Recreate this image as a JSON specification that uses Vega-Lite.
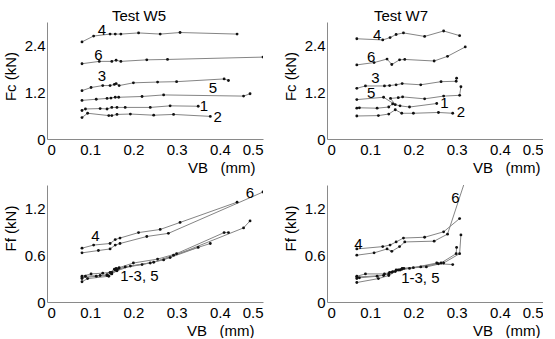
{
  "$schema": "https://vega.github.io/schema/vega-lite/v6.json",
  "padding": {"left": 3, "top": 9, "right": 0, "bottom": 0},
  "background": "white",
  "config": {
    "font": "Liberation Sans",
    "view": {"stroke": null},
    "axis": {"grid": false, "ticks": false, "domainColor": "#8a8a8a", "labelColor": "#000", "labelFontSize": 15, "titleFontSize": 15, "titleFontWeight": "normal", "titleColor": "#000", "labelFont": "Liberation Sans", "titleFont": "Liberation Sans", "format": ".2~g"},
    "title": {"fontSize": 15, "fontWeight": "normal", "font": "Liberation Sans", "baseline": "alphabetic", "offset": -2}
  },
  "datasets": {
    "w5c": [
      {"s": "4", "x": 0.081, "y": 2.49}, {"s": "4", "x": 0.108, "y": 2.64}, {"s": "4", "x": 0.146, "y": 2.69}, {"s": "4", "x": 0.158, "y": 2.69}, {"s": "4", "x": 0.171, "y": 2.69}, {"s": "4", "x": 0.212, "y": 2.72}, {"s": "4", "x": 0.262, "y": 2.69}, {"s": "4", "x": 0.308, "y": 2.73}, {"s": "4", "x": 0.44, "y": 2.69},
      {"s": "6", "x": 0.081, "y": 1.93}, {"s": "6", "x": 0.121, "y": 1.99}, {"s": "6", "x": 0.15, "y": 1.99}, {"s": "6", "x": 0.16, "y": 2.02}, {"s": "6", "x": 0.171, "y": 1.99}, {"s": "6", "x": 0.231, "y": 2.03}, {"s": "6", "x": 0.279, "y": 2.04}, {"s": "6", "x": 0.5, "y": 2.1},
      {"s": "3", "x": 0.081, "y": 1.24}, {"s": "3", "x": 0.102, "y": 1.32}, {"s": "3", "x": 0.129, "y": 1.37}, {"s": "3", "x": 0.146, "y": 1.37}, {"s": "3", "x": 0.156, "y": 1.4}, {"s": "3", "x": 0.16, "y": 1.42}, {"s": "3", "x": 0.167, "y": 1.37}, {"s": "3", "x": 0.2, "y": 1.44}, {"s": "3", "x": 0.256, "y": 1.46}, {"s": "3", "x": 0.3, "y": 1.47}, {"s": "3", "x": 0.41, "y": 1.54}, {"s": "3", "x": 0.42, "y": 1.5},
      {"s": "5", "x": 0.081, "y": 0.99}, {"s": "5", "x": 0.114, "y": 1.02}, {"s": "5", "x": 0.139, "y": 1.04}, {"s": "5", "x": 0.148, "y": 1.05}, {"s": "5", "x": 0.158, "y": 1.07}, {"s": "5", "x": 0.166, "y": 1.07}, {"s": "5", "x": 0.22, "y": 1.09}, {"s": "5", "x": 0.27, "y": 1.13}, {"s": "5", "x": 0.455, "y": 1.1}, {"s": "5", "x": 0.47, "y": 1.16},
      {"s": "1", "x": 0.081, "y": 0.73}, {"s": "1", "x": 0.089, "y": 0.77}, {"s": "1", "x": 0.123, "y": 0.78}, {"s": "1", "x": 0.139, "y": 0.77}, {"s": "1", "x": 0.15, "y": 0.81}, {"s": "1", "x": 0.162, "y": 0.81}, {"s": "1", "x": 0.181, "y": 0.81}, {"s": "1", "x": 0.239, "y": 0.81}, {"s": "1", "x": 0.285, "y": 0.85}, {"s": "1", "x": 0.35, "y": 0.84},
      {"s": "2", "x": 0.081, "y": 0.55}, {"s": "2", "x": 0.094, "y": 0.66}, {"s": "2", "x": 0.143, "y": 0.6}, {"s": "2", "x": 0.15, "y": 0.6}, {"s": "2", "x": 0.162, "y": 0.63}, {"s": "2", "x": 0.193, "y": 0.64}, {"s": "2", "x": 0.247, "y": 0.61}, {"s": "2", "x": 0.293, "y": 0.63}, {"s": "2", "x": 0.378, "y": 0.58}
    ],
    "w5cl": [
      {"t": "4", "x": 0.127, "y": 2.8}, {"t": "6", "x": 0.119, "y": 2.16}, {"t": "3", "x": 0.127, "y": 1.62}, {"t": "5", "x": 0.384, "y": 1.3}, {"t": "1", "x": 0.363, "y": 0.85}, {"t": "2", "x": 0.395, "y": 0.56}
    ],
    "w7c": [
      {"s": "4", "x": 0.069, "y": 2.57}, {"s": "4", "x": 0.129, "y": 2.54}, {"s": "4", "x": 0.146, "y": 2.6}, {"s": "4", "x": 0.16, "y": 2.68}, {"s": "4", "x": 0.177, "y": 2.72}, {"s": "4", "x": 0.226, "y": 2.63}, {"s": "4", "x": 0.27, "y": 2.77}, {"s": "4", "x": 0.307, "y": 2.65},
      {"s": "6", "x": 0.069, "y": 1.9}, {"s": "6", "x": 0.109, "y": 1.96}, {"s": "6", "x": 0.139, "y": 2.05}, {"s": "6", "x": 0.15, "y": 1.91}, {"s": "6", "x": 0.168, "y": 2.03}, {"s": "6", "x": 0.18, "y": 2.04}, {"s": "6", "x": 0.248, "y": 2.0}, {"s": "6", "x": 0.279, "y": 2.12}, {"s": "6", "x": 0.32, "y": 2.36},
      {"s": "3", "x": 0.069, "y": 1.3}, {"s": "3", "x": 0.089, "y": 1.36}, {"s": "3", "x": 0.133, "y": 1.36}, {"s": "3", "x": 0.145, "y": 1.37}, {"s": "3", "x": 0.16, "y": 1.39}, {"s": "3", "x": 0.174, "y": 1.42}, {"s": "3", "x": 0.217, "y": 1.39}, {"s": "3", "x": 0.264, "y": 1.47}, {"s": "3", "x": 0.299, "y": 1.48}, {"s": "3", "x": 0.3, "y": 1.56},
      {"s": "5", "x": 0.069, "y": 1.01}, {"s": "5", "x": 0.131, "y": 1.07}, {"s": "5", "x": 0.158, "y": 0.88}, {"s": "5", "x": 0.147, "y": 1.04}, {"s": "5", "x": 0.165, "y": 1.06}, {"s": "5", "x": 0.175, "y": 1.08}, {"s": "5", "x": 0.226, "y": 1.03}, {"s": "5", "x": 0.27, "y": 1.1}, {"s": "5", "x": 0.307, "y": 1.12}, {"s": "5", "x": 0.31, "y": 1.34},
      {"s": "1", "x": 0.069, "y": 0.79}, {"s": "1", "x": 0.075, "y": 0.8}, {"s": "1", "x": 0.116, "y": 0.79}, {"s": "1", "x": 0.143, "y": 0.82}, {"s": "1", "x": 0.152, "y": 0.9}, {"s": "1", "x": 0.169, "y": 0.85}, {"s": "1", "x": 0.191, "y": 0.82}, {"s": "1", "x": 0.254, "y": 0.91},
      {"s": "2", "x": 0.069, "y": 0.59}, {"s": "2", "x": 0.119, "y": 0.6}, {"s": "2", "x": 0.143, "y": 0.64}, {"s": "2", "x": 0.158, "y": 0.75}, {"s": "2", "x": 0.173, "y": 0.66}, {"s": "2", "x": 0.2, "y": 0.66}, {"s": "2", "x": 0.258, "y": 0.68}, {"s": "2", "x": 0.291, "y": 0.66}
    ],
    "w7cl": [
      {"t": "4", "x": 0.116, "y": 2.66}, {"t": "6", "x": 0.102, "y": 2.09}, {"t": "3", "x": 0.112, "y": 1.56}, {"t": "5", "x": 0.102, "y": 1.18}, {"t": "1", "x": 0.272, "y": 0.92}, {"t": "2", "x": 0.31, "y": 0.68}
    ],
    "w5f": [
      {"s": "4", "x": 0.081, "y": 0.69}, {"s": "4", "x": 0.108, "y": 0.73}, {"s": "4", "x": 0.146, "y": 0.75}, {"s": "4", "x": 0.158, "y": 0.8}, {"s": "4", "x": 0.169, "y": 0.82}, {"s": "4", "x": 0.212, "y": 0.89}, {"s": "4", "x": 0.262, "y": 0.93}, {"s": "4", "x": 0.308, "y": 1.02}, {"s": "4", "x": 0.44, "y": 1.28},
      {"s": "6", "x": 0.081, "y": 0.63}, {"s": "6", "x": 0.119, "y": 0.66}, {"s": "6", "x": 0.146, "y": 0.68}, {"s": "6", "x": 0.158, "y": 0.73}, {"s": "6", "x": 0.169, "y": 0.75}, {"s": "6", "x": 0.231, "y": 0.84}, {"s": "6", "x": 0.281, "y": 0.88}, {"s": "6", "x": 0.5, "y": 1.41},
      {"s": "1", "x": 0.081, "y": 0.3}, {"s": "1", "x": 0.089, "y": 0.33}, {"s": "1", "x": 0.123, "y": 0.34}, {"s": "1", "x": 0.139, "y": 0.35}, {"s": "1", "x": 0.15, "y": 0.38}, {"s": "1", "x": 0.162, "y": 0.41}, {"s": "1", "x": 0.181, "y": 0.45}, {"s": "1", "x": 0.239, "y": 0.5}, {"s": "1", "x": 0.285, "y": 0.57}, {"s": "1", "x": 0.35, "y": 0.7},
      {"s": "2", "x": 0.081, "y": 0.26}, {"s": "2", "x": 0.094, "y": 0.3}, {"s": "2", "x": 0.143, "y": 0.33}, {"s": "2", "x": 0.15, "y": 0.36}, {"s": "2", "x": 0.162, "y": 0.4}, {"s": "2", "x": 0.193, "y": 0.46}, {"s": "2", "x": 0.247, "y": 0.51}, {"s": "2", "x": 0.293, "y": 0.6}, {"s": "2", "x": 0.378, "y": 0.75},
      {"s": "3", "x": 0.081, "y": 0.33}, {"s": "3", "x": 0.102, "y": 0.36}, {"s": "3", "x": 0.129, "y": 0.37}, {"s": "3", "x": 0.146, "y": 0.38}, {"s": "3", "x": 0.156, "y": 0.42}, {"s": "3", "x": 0.16, "y": 0.43}, {"s": "3", "x": 0.167, "y": 0.44}, {"s": "3", "x": 0.2, "y": 0.5}, {"s": "3", "x": 0.256, "y": 0.55}, {"s": "3", "x": 0.3, "y": 0.62}, {"s": "3", "x": 0.41, "y": 0.89}, {"s": "3", "x": 0.42, "y": 0.89},
      {"s": "5", "x": 0.081, "y": 0.31}, {"s": "5", "x": 0.114, "y": 0.33}, {"s": "5", "x": 0.139, "y": 0.34}, {"s": "5", "x": 0.148, "y": 0.37}, {"s": "5", "x": 0.158, "y": 0.41}, {"s": "5", "x": 0.166, "y": 0.43}, {"s": "5", "x": 0.22, "y": 0.48}, {"s": "5", "x": 0.27, "y": 0.54}, {"s": "5", "x": 0.455, "y": 0.95}, {"s": "5", "x": 0.47, "y": 1.04}
    ],
    "w5fl": [
      {"t": "4", "x": 0.112, "y": 0.84}, {"t": "6", "x": 0.47, "y": 1.4}, {"t": "1-3, 5", "x": 0.214, "y": 0.33}
    ],
    "w7f": [
      {"s": "4", "x": 0.069, "y": 0.68}, {"s": "4", "x": 0.129, "y": 0.71}, {"s": "4", "x": 0.146, "y": 0.73}, {"s": "4", "x": 0.16, "y": 0.77}, {"s": "4", "x": 0.177, "y": 0.82}, {"s": "4", "x": 0.226, "y": 0.83}, {"s": "4", "x": 0.27, "y": 0.9}, {"s": "4", "x": 0.307, "y": 1.07},
      {"s": "6", "x": 0.069, "y": 0.6}, {"s": "6", "x": 0.109, "y": 0.63}, {"s": "6", "x": 0.139, "y": 0.68}, {"s": "6", "x": 0.15, "y": 0.65}, {"s": "6", "x": 0.168, "y": 0.71}, {"s": "6", "x": 0.18, "y": 0.77}, {"s": "6", "x": 0.248, "y": 0.78}, {"s": "6", "x": 0.279, "y": 0.87}, {"s": "6", "x": 0.32, "y": 1.56},
      {"s": "1", "x": 0.069, "y": 0.3}, {"s": "1", "x": 0.075, "y": 0.31}, {"s": "1", "x": 0.116, "y": 0.33}, {"s": "1", "x": 0.143, "y": 0.36}, {"s": "1", "x": 0.152, "y": 0.39}, {"s": "1", "x": 0.169, "y": 0.41}, {"s": "1", "x": 0.191, "y": 0.43}, {"s": "1", "x": 0.254, "y": 0.5},
      {"s": "2", "x": 0.069, "y": 0.25}, {"s": "2", "x": 0.119, "y": 0.3}, {"s": "2", "x": 0.143, "y": 0.34}, {"s": "2", "x": 0.158, "y": 0.39}, {"s": "2", "x": 0.173, "y": 0.42}, {"s": "2", "x": 0.2, "y": 0.44}, {"s": "2", "x": 0.258, "y": 0.49}, {"s": "2", "x": 0.291, "y": 0.48},
      {"s": "3", "x": 0.069, "y": 0.33}, {"s": "3", "x": 0.089, "y": 0.36}, {"s": "3", "x": 0.133, "y": 0.36}, {"s": "3", "x": 0.145, "y": 0.38}, {"s": "3", "x": 0.16, "y": 0.41}, {"s": "3", "x": 0.174, "y": 0.43}, {"s": "3", "x": 0.217, "y": 0.45}, {"s": "3", "x": 0.264, "y": 0.5}, {"s": "3", "x": 0.299, "y": 0.62}, {"s": "3", "x": 0.3, "y": 0.7},
      {"s": "5", "x": 0.069, "y": 0.32}, {"s": "5", "x": 0.131, "y": 0.34}, {"s": "5", "x": 0.15, "y": 0.38}, {"s": "5", "x": 0.165, "y": 0.41}, {"s": "5", "x": 0.178, "y": 0.43}, {"s": "5", "x": 0.23, "y": 0.45}, {"s": "5", "x": 0.27, "y": 0.5}, {"s": "5", "x": 0.307, "y": 0.62}, {"s": "5", "x": 0.31, "y": 0.86}
    ],
    "w7fl": [
      {"t": "4", "x": 0.073, "y": 0.75}, {"t": "6", "x": 0.297, "y": 1.33}, {"t": "1-3, 5", "x": 0.216, "y": 0.31}
    ]
  },
  "columns": 2,
  "spacing": {"row": 46, "column": 64},
  "bounds": "flush",
  "concat": [
    {
      "width": 216, "height": 117,
      "title": {"text": "Test W5", "dx": -16},
      "encoding": {
        "x": {"field": "x", "type": "quantitative", "scale": {"domain": [0, 0.5]}, "axis": {"values": [0, 0.1, 0.2, 0.3, 0.4, 0.5], "title": "VB\u00a0\u00a0\u00a0(mm)", "titleAnchor": "end", "titleX": 208, "titleAlign": "right", "labelPadding": 3, "titlePadding": 3}},
        "y": {"field": "y", "type": "quantitative", "scale": {"domain": [0, 3.0]}, "axis": {"values": [0, 1.2, 2.4], "title": "Fc (kN)", "labelPadding": 2, "titlePadding": 6, "titleY": 54}}
      },
      "layer": [
        {"data": {"name": "w5c"}, "mark": {"type": "line", "stroke": "#858585", "strokeWidth": 1, "clip": true}, "encoding": {"detail": {"field": "s"}, "order": {"value": null}}},
        {"data": {"name": "w5c"}, "mark": {"type": "point", "filled": true, "size": 8, "color": "#111", "opacity": 1, "clip": true}},
        {"data": {"name": "w5cl"}, "mark": {"type": "text", "fontSize": 15, "font": "Liberation Sans", "baseline": "middle", "align": "center", "color": "#000"}, "encoding": {"text": {"field": "t"}}}
      ]
    },
    {
      "width": 216, "height": 117,
      "title": {"text": "Test W7", "dx": -34},
      "encoding": {
        "x": {"field": "x", "type": "quantitative", "scale": {"domain": [0, 0.5]}, "axis": {"values": [0, 0.1, 0.2, 0.3, 0.4, 0.5], "title": "VB\u00a0\u00a0\u00a0(mm)", "titleAnchor": "end", "titleX": 213, "titleAlign": "right", "labelPadding": 3, "titlePadding": 3}},
        "y": {"field": "y", "type": "quantitative", "scale": {"domain": [0, 3.0]}, "axis": {"values": [0, 1.2, 2.4], "title": "Fc (kN)", "labelPadding": 2, "titlePadding": 6, "titleY": 54}}
      },
      "layer": [
        {"data": {"name": "w7c"}, "mark": {"type": "line", "stroke": "#858585", "strokeWidth": 1, "clip": true}, "encoding": {"detail": {"field": "s"}, "order": {"value": null}}},
        {"data": {"name": "w7c"}, "mark": {"type": "point", "filled": true, "size": 8, "color": "#111", "opacity": 1, "clip": true}},
        {"data": {"name": "w7cl"}, "mark": {"type": "text", "fontSize": 15, "font": "Liberation Sans", "baseline": "middle", "align": "center", "color": "#000"}, "encoding": {"text": {"field": "t"}}}
      ]
    },
    {
      "width": 216, "height": 117,
      "encoding": {
        "x": {"field": "x", "type": "quantitative", "scale": {"domain": [0, 0.5]}, "axis": {"values": [0, 0.1, 0.2, 0.3, 0.4, 0.5], "title": "VB\u00a0\u00a0\u00a0(mm)", "titleAnchor": "end", "titleX": 207, "titleAlign": "right", "labelPadding": 3, "titlePadding": 3}},
        "y": {"field": "y", "type": "quantitative", "scale": {"domain": [0, 1.5]}, "axis": {"values": [0, 0.6, 1.2], "title": "Ff (kN)", "labelPadding": 2, "titlePadding": 6, "titleY": 43}}
      },
      "layer": [
        {"data": {"name": "w5f"}, "mark": {"type": "line", "stroke": "#858585", "strokeWidth": 1, "clip": true}, "encoding": {"detail": {"field": "s"}, "order": {"value": null}}},
        {"data": {"name": "w5f"}, "mark": {"type": "point", "filled": true, "size": 8, "color": "#111", "opacity": 1, "clip": true}},
        {"data": {"name": "w5fl"}, "mark": {"type": "text", "fontSize": 15, "font": "Liberation Sans", "baseline": "middle", "align": "center", "color": "#000"}, "encoding": {"text": {"field": "t"}}}
      ]
    },
    {
      "width": 216, "height": 117,
      "encoding": {
        "x": {"field": "x", "type": "quantitative", "scale": {"domain": [0, 0.5]}, "axis": {"values": [0, 0.1, 0.2, 0.3, 0.4, 0.5], "title": "VB\u00a0\u00a0\u00a0(mm)", "titleAnchor": "end", "titleX": 213, "titleAlign": "right", "labelPadding": 3, "titlePadding": 3}},
        "y": {"field": "y", "type": "quantitative", "scale": {"domain": [0, 1.5]}, "axis": {"values": [0, 0.6, 1.2], "title": "Ff (kN)", "labelPadding": 2, "titlePadding": 6, "titleY": 43}}
      },
      "layer": [
        {"data": {"name": "w7f"}, "mark": {"type": "line", "stroke": "#858585", "strokeWidth": 1, "clip": true}, "encoding": {"detail": {"field": "s"}, "order": {"value": null}}},
        {"data": {"name": "w7f"}, "mark": {"type": "point", "filled": true, "size": 8, "color": "#111", "opacity": 1, "clip": true}},
        {"data": {"name": "w7fl"}, "mark": {"type": "text", "fontSize": 15, "font": "Liberation Sans", "baseline": "middle", "align": "center", "color": "#000"}, "encoding": {"text": {"field": "t"}}}
      ]
    }
  ]
}
